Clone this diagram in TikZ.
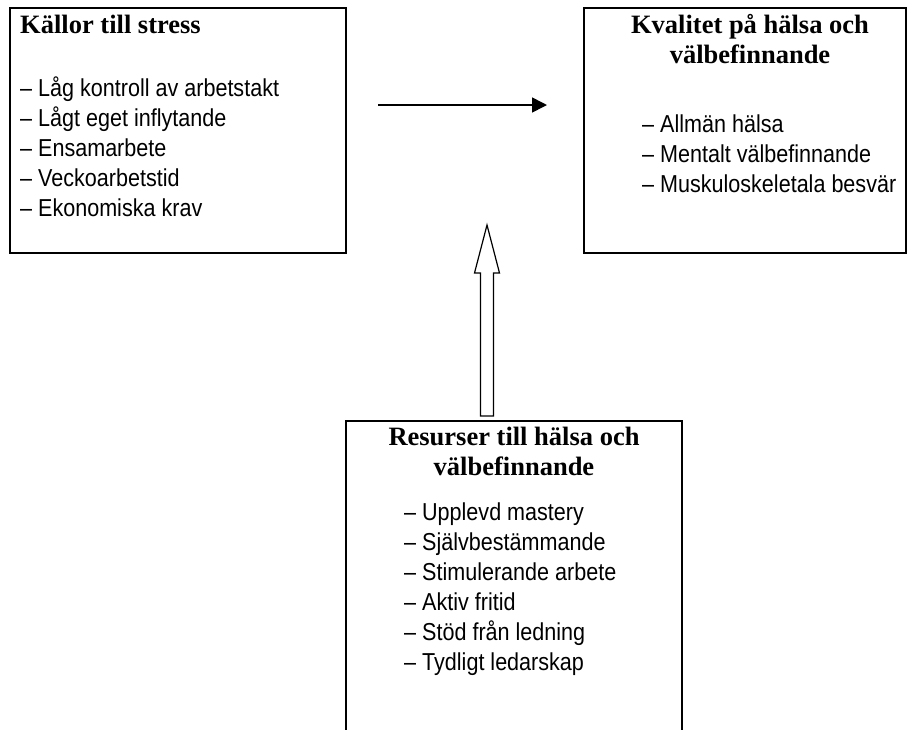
\documentclass[tikz,border=0pt]{standalone}
\usepackage{fontspec}
\setmainfont{Liberation Serif}
\newfontfamily\listfont{Liberation Sans}[FakeStretch=0.88]
\usetikzlibrary{arrows.meta,calc}

\tikzset{
  box/.style={draw, line width=2.5pt, anchor=north west, inner sep=0pt, outer sep=0pt},
  heading/.style={font=\fontsize{26.5}{30}\selectfont\bfseries, inner sep=0pt, align=center, anchor=base},
  item/.style={font=\fontsize{24.5}{30}\selectfont\listfont, inner sep=0pt, anchor=base west},
  hollow/.style={line width=1.2pt, line join=miter},
}

\begin{document}
\begin{tikzpicture}[x=1pt,y=-1pt]
  \useasboundingbox (0,0) rectangle (910,729);
  \clip (0,0) rectangle (910,729);
  % the three boxes
  \node[box, minimum width=336pt, minimum height=245pt] (kallor) at (10,8) {};
  \node[box, minimum width=322pt, minimum height=245pt] (kvalitet) at (584,8) {};
  \node[box, minimum width=336pt, minimum height=340pt] (resurser) at (346,421) {};
  % headings (base = last line)
  \node[heading, anchor=base west] (kallor-title) at (20,33) {Källor till stress};
  \node[heading] (kvalitet-title) at (750,63) {Kvalitet på hälsa och\\välbefinnande};
  \node[heading] (resurser-title) at (514,475) {Resurser till hälsa och\\välbefinnande};
  % lists
  \foreach \txt [count=\i] in {Låg kontroll av arbetstakt, Lågt eget inflytande,
      Ensamarbete, Veckoarbetstid, Ekonomiska krav}
    \node[item] (kallor-\i) at (20,66+30*\i) {– \txt};
  \foreach \txt [count=\i] in {Allmän hälsa, Mentalt välbefinnande,
      Muskuloskeletala besvär}
    \node[item] (kvalitet-\i) at (642,102+30*\i) {– \txt};
  \foreach \txt [count=\i] in {Upplevd mastery, Självbestämmande,
      Stimulerande arbete, Aktiv fritid, Stöd från ledning, Tydligt ledarskap}
    \node[item] (resurser-\i) at (404,490+30*\i) {– \txt};
  % arrows
  \draw[line width=1.6pt, -{Triangle[length=15pt,width=15pt]}]
    ([xshift=32pt,yshift=25.5pt]kallor.east) -- ([xshift=-37pt,yshift=25.5pt]kvalitet.west);
  \coordinate (lift) at ([xshift=-27pt,yshift=5pt]resurser.north);
  \draw[hollow] (lift) -- ++(-6.5,0) -- ++(0,-143) -- ++(-6,0) -- ++(12.5,-48)
    -- ++(12.5,48) -- ++(-6,0) -- ++(0,143) -- cycle;
\end{tikzpicture}
\end{document}
